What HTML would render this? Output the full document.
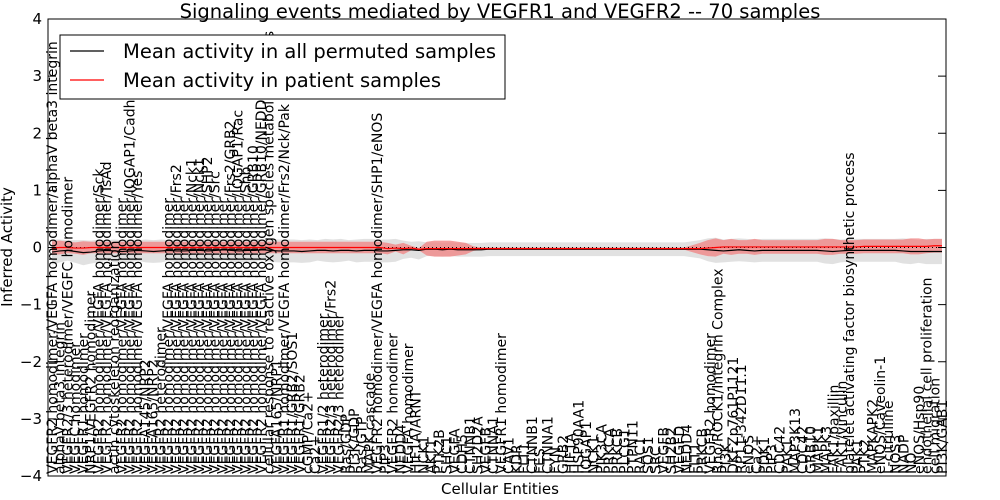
<!DOCTYPE html>
<html><head><meta charset="utf-8"><style>
body{margin:0;background:#fff;}
svg{display:block;font-family:"DejaVu Sans","Liberation Sans",sans-serif;}
</style></head><body>
<svg id="chart" width="1000" height="500" viewBox="0 0 1000 500" xmlns="http://www.w3.org/2000/svg">
<rect width="1000" height="500" fill="#fff"/>
<text x="500" y="18" font-size="19.5" text-anchor="middle">Signaling events mediated by VEGFR1 and VEGFR2 -- 70 samples</text>
<g id="bands"></g>
<g id="lines"></g>
<g id="xlabels" font-size="14"></g>
<g id="yaxis" font-size="15"></g>
<rect x="48" y="19" width="898" height="457" fill="none" stroke="#000" stroke-width="1"/>
<text transform="translate(12,247) rotate(-90)" font-size="15" text-anchor="middle">Inferred Activity</text>
<text x="500" y="494" font-size="15" text-anchor="middle">Cellular Entities</text>
<g>
<rect x="60" y="35" width="445" height="64" fill="#fff" stroke="#000"/>
<line x1="70" y1="51" x2="104" y2="51" stroke="#000" stroke-width="1.2"/>
<text x="123" y="58" font-size="19.5">Mean activity in all permuted samples</text>
<line x1="70" y1="80" x2="104" y2="80" stroke="#f00" stroke-width="1.2"/>
<text x="123" y="87" font-size="19.5">Mean activity in patient samples</text>
</g>
</svg>
<script>
const labels=["VEGFR2 homodimer/VEGFA homodimer/alphaV beta3 integrin","alphaV beta3 integrin","VEGFR2/3 heterodimer/VEGFC homodimer","VEGFC homodimer","VEGFR1 homodimer","NRP1/VEGFR2 homodimer","VEGFR2 homodimer/VEGFA homodimer/Sck","VEGFR2 homodimer/VEGFA homodimer/TsAd","actin cytoskeleton reorganization","VEGFR2 homodimer/VEGFA homodimer","VEGFR2 homodimer/VEGFA homodimer/IQGAP1/Cadherin","VEGFR2 homodimer/VEGFA homodimer/Yes","VEGFA145/NRP2","VEGFA165/NRP2","VEGFR2 heterodimer","VEGFR2 homodimer/VEGFA homodimer","VEGFR2 homodimer/VEGFA homodimer/Frs2","VEGFR2 homodimer/VEGFA homodimer","VEGFR2 homodimer/VEGFA homodimer/Nck1","VEGFR2 homodimer/VEGFA homodimer/Nck1","VEGFR2 homodimer/VEGFA homodimer/SHP2","VEGFR2 homodimer/VEGFA homodimer/Src","VEGFR2 homodimer/VEGFA homodimer","VEGFR2 homodimer/VEGFA homodimer/Frs2/GRB2","VEGFR2 homodimer/VEGFA homodimer/IQGAP1/Rac","VEGFR2 homodimer/VEGFA homodimer/Shb","VEGFR2 homodimer/VEGFA homodimer/GRB10","VEGFR2 homodimer/VEGFA homodimer/GRB10/NEDD4","cellular response to reactive oxygen species metabolic process","VEGFA165/NRP1","VEGFR1 homodimer/VEGFA homodimer/Frs2/Nck/Pak","VEGFR1/GRB2/SOS1","VEGFR1/GRB2","cGMP/Ca2+","Ca2+","VEGFR1/2 heterodimer","VEGFR2/3 heterodimer/Frs2","VEGFR2/3 heterodimer","Ras/GDP","PI3K/GDP","Ras/GTP","MAPK cascade","VEGFR2 homodimer/VEGFA homodimer/SHP1/eNOS","PIP3","VEGFR2 homodimer","NEDD4","VEGFA homodimer","HIF1A/ARNT","NCK1","AKT1","PTK2B","SHC1","VEGFA","CDH5","CTNNB1","SH2D2A","VEGFB","CTNNA1","VEGFR1 homodimer","CAV1","KDR","FLT1","CTNNB1","FES","CTNNA1","FYN","GRB2","HIF1A","HSP90AA1","IQGAP1","NCK1","PIK3CA","PRKCA","PRKCB","PLCG1","PTPN11","RAC1","SOS1","SRC","VEGFB","SH2B2","VEGFD","NEDD4","FLT1","PRKCB","VEGFR2 homodimer","Rho/ROCK1/Integrin Complex","PI3K","DKFZp761P1121","RP11-342D11.1","eNOS","Ca2+","PDK1","PIP3","CDC42","PAK1","MAP3K13","CDC42","GRB10","MAPK1","MAPK3","FAK1/paxillin","FAK1/vinculin","platelet activating factor biosynthetic process","PAK1","PTK2","MAPKAPK2","eNOS/Caveolin-1","L-citrulline","NOS3","NADP","NO","eNOS/Hsp90","endothelial cell proliferation","cell migration","PI3K/GAB1"];
const permMean=[-0.08,-0.06,-0.05,-0.07,-0.09,-0.08,-0.06,-0.05,-0.06,-0.07,-0.06,-0.05,-0.06,-0.07,-0.06,-0.05,-0.06,-0.06,-0.05,-0.05,-0.06,-0.05,-0.04,-0.05,-0.06,-0.05,-0.05,-0.04,-0.05,-0.06,-0.06,-0.06,-0.07,-0.06,-0.05,-0.05,-0.06,-0.05,-0.05,-0.06,-0.05,-0.05,-0.06,-0.06,-0.05,-0.04,-0.04,-0.05,-0.03,-0.03,-0.04,-0.03,-0.04,-0.04,-0.04,-0.04,-0.03,-0.03,-0.03,-0.03,-0.03,-0.03,-0.03,-0.03,-0.03,-0.03,-0.03,-0.03,-0.03,-0.03,-0.03,-0.03,-0.03,-0.03,-0.03,-0.03,-0.03,-0.03,-0.03,-0.03,-0.03,-0.03,-0.03,-0.03,-0.04,-0.05,-0.06,-0.05,-0.04,-0.05,-0.06,-0.05,-0.05,-0.05,-0.05,-0.05,-0.05,-0.05,-0.05,-0.06,-0.07,-0.06,-0.05,-0.05,-0.05,-0.05,-0.05,-0.05,-0.05,-0.06,-0.07,-0.07,-0.07,-0.07,-0.07];
const permSpread=[0.22,0.2,0.18,0.2,0.22,0.2,0.2,0.18,0.2,0.2,0.2,0.18,0.2,0.2,0.2,0.18,0.2,0.2,0.18,0.2,0.2,0.2,0.18,0.2,0.2,0.2,0.2,0.18,0.2,0.2,0.2,0.2,0.2,0.2,0.18,0.2,0.2,0.2,0.18,0.2,0.2,0.2,0.2,0.2,0.2,0.16,0.14,0.16,0.12,0.12,0.12,0.12,0.12,0.12,0.12,0.12,0.12,0.12,0.12,0.12,0.12,0.12,0.12,0.12,0.12,0.12,0.12,0.12,0.12,0.12,0.12,0.12,0.12,0.12,0.12,0.12,0.12,0.12,0.12,0.12,0.12,0.12,0.14,0.16,0.2,0.22,0.2,0.2,0.2,0.2,0.2,0.2,0.2,0.2,0.2,0.2,0.2,0.2,0.2,0.22,0.22,0.2,0.2,0.2,0.2,0.2,0.2,0.2,0.2,0.22,0.22,0.2,0.22,0.22,0.22];
const patMean=[-0.01,0,0,-0.01,-0.01,0,0,0,0,0,0,0,0,0,0,0,0,0,0,0,0,0,0,0,0,0,0,0,0,0,0,0,0,0,0,0,0,0,0,0,0,0,0,-0.02,-0.01,-0.02,-0.01,-0.03,-0.02,-0.02,-0.02,-0.02,-0.02,-0.02,-0.02,-0.02,-0.02,-0.02,-0.02,-0.02,-0.02,-0.02,-0.02,-0.02,-0.02,-0.02,-0.02,-0.02,-0.02,-0.02,-0.02,-0.02,-0.02,-0.02,-0.02,-0.02,-0.02,-0.02,-0.02,-0.02,-0.02,-0.02,-0.02,-0.02,-0.01,0,0.01,0.01,0.01,0.01,0.01,0.01,0.01,0.01,0.01,0.01,0.01,0.01,0.01,0.01,0.01,0.01,0.01,0.01,0.02,0.02,0.02,0.02,0.02,0.02,0.02,0.02,0.02,0.03,0.03];
const patSpread=[0.12,0.12,0.1,0.1,0.12,0.1,0.1,0.1,0.1,0.1,0.1,0.1,0.1,0.1,0.1,0.1,0.1,0.1,0.1,0.1,0.1,0.1,0.1,0.1,0.1,0.1,0.1,0.1,0.1,0.1,0.1,0.1,0.1,0.1,0.1,0.1,0.1,0.1,0.1,0.1,0.1,0.1,0.1,0.1,0.06,0.1,0.04,0.02,0.12,0.14,0.14,0.14,0.12,0.1,0.04,0.02,0.02,0.02,0.02,0.02,0.02,0.02,0.02,0.02,0.02,0.02,0.02,0.02,0.02,0.02,0.02,0.02,0.02,0.02,0.02,0.02,0.02,0.02,0.02,0.02,0.02,0.02,0.06,0.1,0.14,0.16,0.12,0.14,0.12,0.12,0.14,0.12,0.12,0.12,0.12,0.12,0.12,0.12,0.12,0.14,0.14,0.12,0.12,0.12,0.12,0.12,0.12,0.12,0.12,0.12,0.14,0.14,0.12,0.12,0.12];
const yTicks=[4,3,2,1,0,-1,-2,-3,-4];
const NS="http://www.w3.org/2000/svg";
const X0=52,X1=942,Y0=476,Y1=19,YMIN=-4,YMAX=4;
function xs(i,len){return X0+(X1-X0)*i/(len-1);}
function ys(v){return Y0-(v-YMIN)/(YMAX-YMIN)*(Y0-Y1);}
function mk(tag,attrs,parent){const e=document.createElementNS(NS,tag);for(const k in attrs)e.setAttribute(k,attrs[k]);parent.appendChild(e);return e;}
function band(mean,spr){const m=Math.min(mean.length,spr.length);let up=[],dn=[];for(let i=0;i<m;i++){up.push(xs(i,m)+","+ys(mean[i]+spr[i]));dn.unshift(xs(i,m)+","+ys(mean[i]-spr[i]));}return "M"+up.join("L")+"L"+dn.join("L")+"Z";}
function line(mean){return "M"+mean.map((v,i)=>xs(i,mean.length)+","+ys(v)).join("L");}
const bands=document.getElementById('bands'),lines=document.getElementById('lines');
let b1=mk('path',{d:band(permMean,permSpread),fill:"#d9d9d9","fill-opacity":"0.8"},bands);


let b2=mk('path',{d:band(patMean,patSpread),fill:"#f08080","fill-opacity":"0.75"},bands);


let z=mk('line',{x1:48,x2:946,y1:ys(0),y2:ys(0),stroke:"#000","stroke-dasharray":"1,3"},lines);


let l1=mk('path',{d:line(permMean),fill:"none",stroke:"#000","stroke-width":1.2},lines);


let l2=mk('path',{d:line(patMean),fill:"none",stroke:"#f00","stroke-width":1.2},lines);


const xl=document.getElementById('xlabels');
labels.forEach((t,i)=>{const x=xs(i,labels.length)+5;const e=mk('text',{transform:"translate("+x+",474) rotate(-90)"},xl);e.textContent=t;

});
const ya=document.getElementById('yaxis');
yTicks.forEach(v=>{const y=ys(v);
mk('line',{x1:48,x2:56,y1:y,y2:y,stroke:"#000"},ya);mk('line',{x1:938,x2:946,y1:y,y2:y,stroke:"#000"},ya);
const e=mk('text',{x:42,y:y+5,"text-anchor":"end"},ya);e.textContent=v<0?"\u2212"+(-v):String(v);

});
</script>
</body></html>
